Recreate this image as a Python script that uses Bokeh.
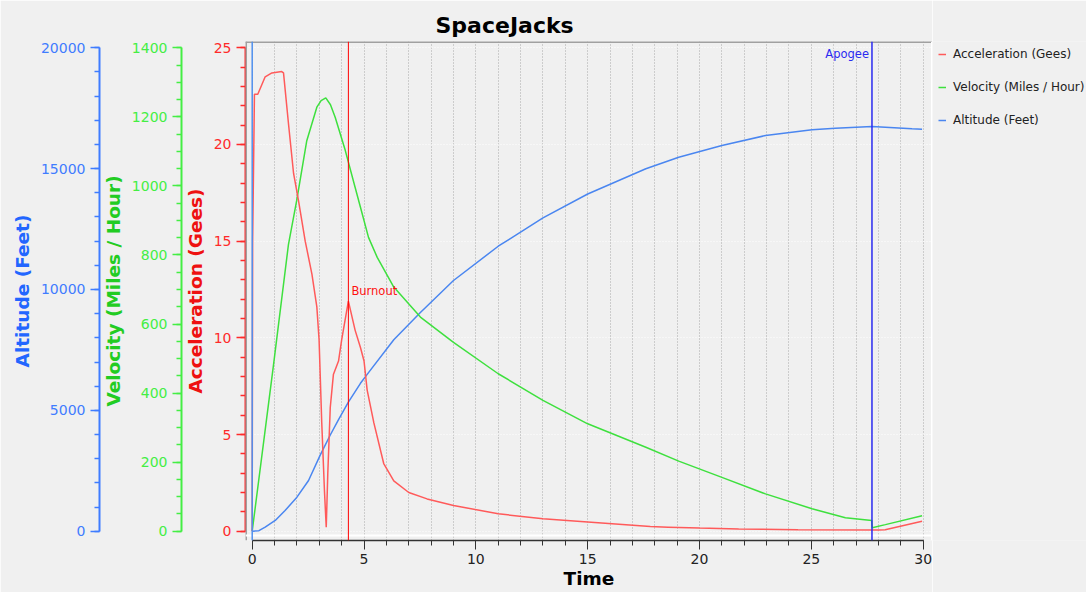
from bokeh.plotting import figure
from bokeh.layouts import row
from bokeh.models import (Range1d, LinearAxis, SingleIntervalTicker, Span, Label,
                          Legend, LegendItem)
from bokeh.embed import file_html
from bokeh.resources import INLINE

# ---------------- data ----------------
acc_time = [0.0, 0.02, 0.1, 0.25, 0.58, 0.88, 1.32, 1.4, 1.62, 1.85, 2.07, 2.37, 2.67,
            2.89, 2.99, 3.11, 3.23, 3.31, 3.38, 3.49, 3.63, 3.86, 4.0, 4.3, 4.6, 4.84,
            5.0, 5.14, 5.44, 5.88, 6.33, 7.0, 7.82, 9.0, 11.0, 13.0, 15.0, 17.8, 18.6,
            20.0, 21.75, 24.4, 28.0, 28.3, 29.95]
acc_gees = [0.0, 15.0, 22.6, 22.6, 23.5, 23.7, 23.77, 23.7, 21.1, 18.5, 17.1, 15.0, 13.3,
            11.6, 9.9, 5.6, 2.1, 0.2, 3.0, 6.4, 8.1, 8.8, 9.9, 11.9, 10.4, 9.5,
            8.8, 7.3, 5.6, 3.5, 2.6, 2.0, 1.67, 1.33, 0.9, 0.64, 0.47, 0.24, 0.21,
            0.16, 0.12, 0.08, 0.06, 0.08, 0.52]

vel_time = [0.0, 0.95, 1.62, 1.99, 2.44, 2.89, 3.08, 3.29, 3.5, 3.71, 4.16, 4.6, 4.84,
            5.2, 5.59, 6.33, 7.52, 9.0, 11.0, 13.0, 15.0, 17.6, 19.07, 21.0, 22.95,
            25.03, 26.52, 27.7, 27.72, 28.31, 29.95]
vel_mph = [0, 480, 830, 958, 1131, 1228, 1247, 1255, 1235, 1199, 1103, 996, 938,
           851, 793, 707, 620, 547, 456, 379, 311, 243, 203, 156, 108,
           65, 39, 31, 10, 19, 45]

alt_time = [0.0, 0.3, 0.58, 1.03, 1.47, 2.0, 2.52, 3.04, 3.49, 3.86, 4.3, 4.84, 5.2,
            6.33, 7.52, 9.0, 11.0, 13.0, 15.0, 17.6, 19.07, 21.0, 22.95, 25.03, 26.07,
            27.71, 29.5, 29.95]
alt_feet = [0, 20, 165, 443, 856, 1407, 2098, 3150, 3980, 4620, 5337, 6120, 6560,
            7920, 9050, 10372, 11790, 12960, 13950, 14994, 15474, 15958, 16371, 16607, 16674,
            16744, 16649, 16635]

launch_time = 0.0
burnout_time = 4.3
apogee_time = 27.71
burnout_label_gees = 12.43
apogee_label_gees = 24.7

series_labels = ["Acceleration (Gees)", "Velocity (Miles / Hour)", "Altitude (Feet)"]

# ---------------- styling ----------------
BG = "#f0f0f0"
ACC_LINE, ACC_AXIS = "#ff5a5a", "#ff2a2a"
VEL_LINE, VEL_AXIS = "#3ee03e", "#44ee44"
ALT_LINE, ALT_AXIS = "#4a86f0", "#3f7cff"
FONT = "DejaVu Sans"

LEG_W, TOTAL_H = 154, 592
LEG_PAD, LEG_ROW, LEG_GAP = 5, 14, 19
FRAME_TOP = 41

p = figure(width=1086 - LEG_W, height=TOTAL_H, output_backend="svg", toolbar_location=None,
           x_range=Range1d(-0.2996, 30.416), y_range=Range1d(-0.481, 25.326),
           min_border_left=245, min_border_right=0, min_border_top=FRAME_TOP,
           min_border_bottom=52, background_fill_color=BG, border_fill_color=BG,
           outline_line_color=None)
p.extra_y_ranges = {"vel": Range1d(-26.93, 1418.2), "alt": Range1d(-384.8, 20260.6)}

p.title.text = "SpaceJacks"
p.title.text_font = FONT
p.title.text_font_style = "bold"
p.title.text_font_size = "22px"
p.title.text_color = "#000000"
p.title.align = "left"
p.title.offset = 190
p.title.standoff = 8


def style_axis(ax, color, label_color, label, interval, minor, bounds):
    ax.ticker = SingleIntervalTicker(interval=interval, num_minor_ticks=minor)
    ax.bounds = bounds
    ax.axis_label = label
    ax.axis_label_text_font = FONT
    ax.axis_label_text_font_style = "bold"
    ax.axis_label_text_font_size = "18.5px"
    ax.axis_label_text_color = label_color
    ax.axis_label_standoff = 5
    ax.axis_line_color = color
    ax.axis_line_width = 2
    ax.major_tick_line_color = color
    ax.minor_tick_line_color = color
    ax.major_tick_line_width = 1.5
    ax.minor_tick_line_width = 1.5
    ax.major_tick_out = 9
    ax.major_tick_in = 0
    ax.minor_tick_out = 5
    ax.minor_tick_in = 0
    ax.major_label_text_color = color
    ax.major_label_text_font = FONT
    ax.major_label_text_font_size = "14px"
    ax.major_label_standoff = 5


acc_axis = p.yaxis[0]
style_axis(acc_axis, ACC_AXIS, "#ee1111", "Acceleration (Gees)", 5, 5, (0, 25))

vel_axis = LinearAxis(y_range_name="vel")
style_axis(vel_axis, VEL_AXIS, "#22cc22", "Velocity (Miles / Hour)", 200, 4, (0, 1400))
p.add_layout(vel_axis, "left")

alt_axis = LinearAxis(y_range_name="alt")
style_axis(alt_axis, ALT_AXIS, "#2266ff", "Altitude (Feet)", 5000, 5, (0, 20000))
p.add_layout(alt_axis, "left")

xa = p.xaxis[0]
xa.ticker = SingleIntervalTicker(interval=5, num_minor_ticks=5)
xa.bounds = (0, 30)
xa.axis_label = "Time"
xa.axis_label_text_font = FONT
xa.axis_label_text_font_style = "bold"
xa.axis_label_text_font_size = "18.5px"
xa.axis_label_text_color = "#000000"
xa.axis_label_standoff = 1
xa.axis_line_color = "#333333"
xa.axis_line_width = 1.5
xa.major_tick_line_color = "#333333"
xa.minor_tick_line_color = "#333333"
xa.major_tick_out = 9
xa.major_tick_in = 0
xa.minor_tick_out = 5
xa.minor_tick_in = 0
xa.major_label_text_color = "#222222"
xa.major_label_text_font = FONT
xa.major_label_text_font_size = "14px"
xa.major_label_standoff = 4

# grids
p.xgrid.ticker = SingleIntervalTicker(interval=1)
p.xgrid.grid_line_color = "#a8a8a8"
p.xgrid.grid_line_dash = "1 2"
p.xgrid.grid_line_width = 1
p.ygrid.ticker = SingleIntervalTicker(interval=5)
p.ygrid.grid_line_color = "#ffffff"
p.ygrid.grid_line_dash = "1 2"
p.ygrid.grid_line_width = 1

# sunken frame border
p.add_layout(Span(location=p.x_range.start, dimension="height", line_color="#a0a0a0", line_width=3))
p.add_layout(Span(location=p.y_range.end, dimension="width", line_color="#a0a0a0", line_width=3))
p.add_layout(Span(location=p.x_range.end, dimension="height", line_color="#ffffff", line_width=3))
p.add_layout(Span(location=-0.222, dimension="width", line_color="#ffffff", line_width=2))

# data lines
r_alt = p.line(alt_time, alt_feet, y_range_name="alt", line_color=ALT_LINE, line_width=1.5)
r_vel = p.line(vel_time, vel_mph, y_range_name="vel", line_color=VEL_LINE, line_width=1.5)
r_acc = p.line(acc_time, acc_gees, line_color=ACC_LINE, line_width=1.5)

# event markers
p.add_layout(Span(location=launch_time, dimension="height", line_color="#5090ee", line_width=1.5))
p.add_layout(Span(location=burnout_time, dimension="height", line_color="#ff0000", line_width=1))
p.add_layout(Span(location=apogee_time, dimension="height", line_color="#2a2af0", line_width=1.5))
p.add_layout(Label(x=burnout_time, y=burnout_label_gees, text="Burnout", x_offset=3,
                   text_color="#ff1010", text_font=FONT, text_font_size="11.5px",
                   text_baseline="middle"))
p.add_layout(Label(x=apogee_time, y=apogee_label_gees, text="Apogee", x_offset=-3,
                   text_align="right", text_color="#2a2af0", text_font=FONT,
                   text_font_size="11.5px", text_baseline="middle"))

# ---------------- legend in its own narrow figure on the right ----------------
lp = figure(width=LEG_W, height=TOTAL_H, output_backend="svg", toolbar_location=None,
            x_range=Range1d(0, 1), y_range=Range1d(0, 1), x_axis_location=None,
            y_axis_location=None, min_border_left=0, min_border_right=0,
            min_border_bottom=0, min_border_top=FRAME_TOP, background_fill_color=BG,
            border_fill_color=BG, outline_line_color=None)
lp.grid.visible = False
# key renderers: placed outside the visible range, they only feed the legend swatches
k_acc = lp.line([-1, -2], [-1, -2], line_color=ACC_LINE, line_width=1.5)
k_vel = lp.line([-1, -2], [-1, -2], line_color=VEL_LINE, line_width=1.5)
k_alt = lp.line([-1, -2], [-1, -2], line_color=ALT_LINE, line_width=1.5)

legend = Legend(items=[LegendItem(label=series_labels[0], renderers=[k_acc]),
                       LegendItem(label=series_labels[1], renderers=[k_vel]),
                       LegendItem(label=series_labels[2], renderers=[k_alt])],
                location="top_left", border_line_color=None,
                background_fill_alpha=0, padding=LEG_PAD, margin=6, spacing=LEG_GAP,
                glyph_width=8, glyph_height=LEG_ROW, label_height=LEG_ROW,
                label_standoff=7, label_text_font=FONT, label_text_font_size="12px",
                label_text_color="#222222")
lp.add_layout(legend)

layout = row(p, lp, spacing=0)
open("out.html", "w").write(file_html(layout, INLINE))
